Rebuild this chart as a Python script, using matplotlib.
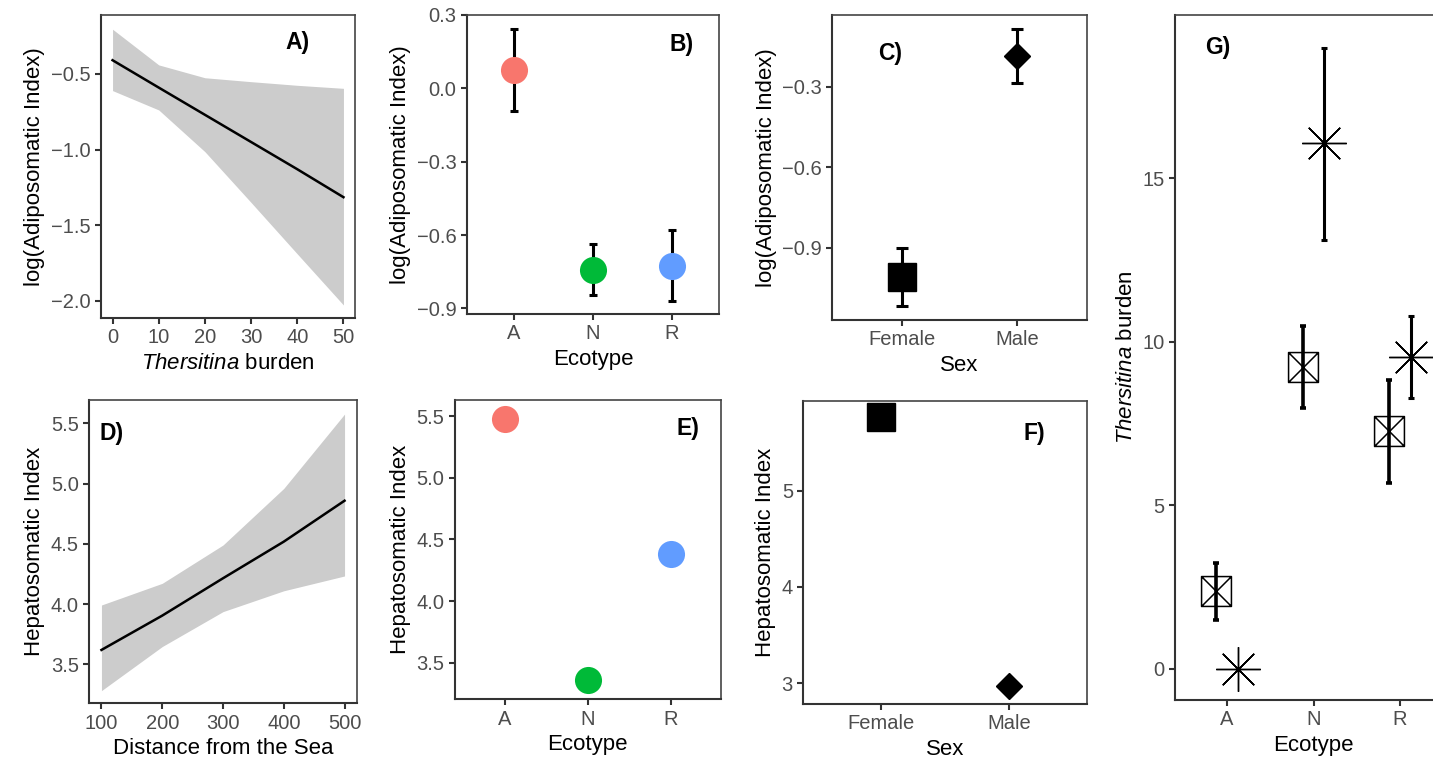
import numpy as np
import matplotlib
matplotlib.use('Agg')
from matplotlib import pyplot as plt
from matplotlib.path import Path

plt.rcParams['font.family'] = ['Liberation Sans', 'DejaVu Sans']
plt.rcParams['mathtext.fontset'] = 'custom'
plt.rcParams['mathtext.rm'] = 'Liberation Sans'
plt.rcParams['mathtext.it'] = 'Liberation Sans:italic'

# panel A: Thersitina burden vs log(AI)
burden = [0, 10, 20, 30, 40, 50]
ai_fit = [-0.409, -0.59, -0.77, -0.95, -1.13, -1.315]
ai_hi = [-0.204, -0.44, -0.525, -0.551, -0.575, -0.595]
ai_lo = [-0.61, -0.738, -1.014, -1.35, -1.69, -2.028]

# panel D: distance from the sea vs HSI
distance = [100, 200, 300, 400, 500]
hsi_fit = [3.619, 3.904, 4.214, 4.518, 4.858]
hsi_hi = [3.992, 4.172, 4.49, 4.96, 5.577]
hsi_lo = [3.281, 3.647, 3.937, 4.11, 4.233]

# panels B and E: ecotype
ecotypes = ['A', 'N', 'R']
eco_colors = ['#F8766D', '#00BA38', '#619CFF']
ai_eco = [0.075, -0.744, -0.727]
ai_eco_hi = [0.243, -0.638, -0.581]
ai_eco_lo = [-0.092, -0.847, -0.870]
hsi_eco = [5.473, 3.359, 4.378]

# panels C and F: sex
sexes = ['Female', 'Male']
sex_markers = ['s', 'D']
ai_sex = [-1.007, -0.186]
ai_sex_hi = [-0.9, -0.086]
ai_sex_lo = [-1.116, -0.287]
hsi_sex = [5.768, 2.972]

# panel G: burden per ecotype, two groups
burden_sq = [2.39, 9.22, 7.28]
burden_sq_hi = [3.25, 10.49, 8.85]
burden_sq_lo = [1.49, 7.99, 5.70]
burden_st = [0.0, 16.07, 9.55]
burden_st_hi = [0.0, 19.0, 10.79]
burden_st_lo = [0.0, 13.13, 8.28]

W, H = 1433, 765
fig = plt.figure(figsize=(W / 100, H / 100), dpi=100)


def add(l, r, t, b):
    ax = fig.add_axes([l / W, 1 - b / H, (r - l) / W, (b - t) / H])
    for s in ['left', 'bottom']:
        ax.spines[s].set_linewidth(1.5)
        ax.spines[s].set_color('#333333')
    for s in ['top', 'right']:
        ax.spines[s].set_linewidth(1.2)
        ax.spines[s].set_color('#444444')
    ax.tick_params(labelsize=14.5, labelcolor='#4D4D4D', color='#333333',
                   width=1.5, length=4.5, pad=3)
    return ax


def tag(ax, s, fx, fy):
    ax.text(fx, fy, s, transform=ax.transAxes, ha='center', va='center',
            fontsize=16.5, fontweight='bold')


lab = dict(fontsize=16)

# A
ax = add(101, 355, 15, 318)
ax.fill_between(burden, ai_lo, ai_hi, color='#CCCCCC', lw=0)
ax.plot(burden, ai_fit, color='black', lw=1.8)
ax.set_xlim(-2.5, 52.5)
ax.set_ylim(-2.114, -0.11)
ax.set_xticks([0, 10, 20, 30, 40, 50])
ax.set_yticks([-0.5, -1.0, -1.5, -2.0])
ax.set_xlabel(r'$\it{Thersitina}$ burden', **lab)
ax.set_ylabel('log(Adiposomatic Index)', **lab)
tag(ax, 'A)', 0.772, 0.908)

# B
ax = add(466.7, 719.3, 15, 314)
xs = np.arange(1, 4)
for i in range(3):
    ax.errorbar(xs[i], ai_eco[i],
                yerr=[[ai_eco[i] - ai_eco_lo[i]], [ai_eco_hi[i] - ai_eco[i]]],
                fmt='none', ecolor='black', elinewidth=2.2, capsize=3, capthick=2.2)
    ax.plot(xs[i], ai_eco[i], 'o', ms=19.5, color=eco_colors[i], mec='none', zorder=3)
ax.set_xlim(0.4, 3.6)
ax.set_ylim(-0.923, 0.3)
ax.set_xticks(xs, ecotypes)
ax.set_yticks([0.3, 0.0, -0.3, -0.6, -0.9])
ax.set_xlabel('Ecotype', **lab)
ax.set_ylabel('log(Adiposomatic Index)', **lab)
tag(ax, 'B)', 0.852, 0.903)

# C
ax = add(832.3, 1086.7, 15, 320)
xs2 = np.arange(1, 3)
for i in range(2):
    ax.errorbar(xs2[i], ai_sex[i],
                yerr=[[ai_sex[i] - ai_sex_lo[i]], [ai_sex_hi[i] - ai_sex[i]]],
                fmt='none', ecolor='black', elinewidth=2.2, capsize=4, capthick=2.2)
    ax.plot(xs2[i], ai_sex[i], sex_markers[i], ms=19.5 if i == 0 else 13.5,
            color='black', zorder=3)
ax.set_xlim(0.4, 2.6)
ax.set_ylim(-1.168, -0.033)
ax.set_xticks(xs2, sexes)
ax.set_yticks([-0.3, -0.6, -0.9])
ax.set_xlabel('Sex', **lab)
ax.set_ylabel('log(Adiposomatic Index)', **lab)
tag(ax, 'C)', 0.227, 0.875)

# D
ax = add(89.3, 356.7, 400, 703.3)
ax.fill_between(distance, hsi_lo, hsi_hi, color='#CCCCCC', lw=0)
ax.plot(distance, hsi_fit, color='black', lw=1.8)
ax.set_xlim(80, 520)
ax.set_ylim(3.176, 5.694)
ax.set_xticks([100, 200, 300, 400, 500])
ax.set_yticks([3.5, 4.0, 4.5, 5.0, 5.5])
ax.set_xlabel('Distance from the Sea', **lab)
ax.set_ylabel('Hepatosomatic Index', **lab)
tag(ax, 'D)', 0.085, 0.891)

# E
ax = add(455, 720.7, 400, 699.3)
for i in range(3):
    ax.plot(xs[i], hsi_eco[i], 'o', ms=19.5, color=eco_colors[i], mec='none')
ax.set_xlim(0.4, 3.6)
ax.set_ylim(3.203, 5.63)
ax.set_xticks(xs, ecotypes)
ax.set_yticks([3.5, 4.0, 4.5, 5.0, 5.5])
ax.set_xlabel('Ecotype', **lab)
ax.set_ylabel('Hepatosomatic Index', **lab)
tag(ax, 'E)', 0.877, 0.906)

# F
ax = add(803.3, 1086.7, 400.7, 704)
for i in range(2):
    ax.plot(xs2[i], hsi_sex[i], sex_markers[i], ms=19.5 if i == 0 else 13.5,
            color='black')
ax.set_xlim(0.4, 2.6)
ax.set_ylim(2.785, 5.934)
ax.set_xticks(xs2, sexes)
ax.set_yticks([3, 4, 5])
ax.set_xlabel('Sex', **lab)
ax.set_ylabel('Hepatosomatic Index', **lab)
tag(ax, 'F)', 0.815, 0.893)

# G
boxx = Path([(-1, -1), (1, -1), (1, 1), (-1, 1), (-1, -1), (1, 1), (-1, 1), (1, -1)],
            [Path.MOVETO, Path.LINETO, Path.LINETO, Path.LINETO, Path.LINETO,
             Path.LINETO, Path.MOVETO, Path.LINETO])
ax = add(1175, 1452, 15, 700)
dodge = 0.125
ax.errorbar(xs - dodge, burden_sq,
            yerr=[np.subtract(burden_sq, burden_sq_lo), np.subtract(burden_sq_hi, burden_sq)],
            fmt='none', ecolor='black', elinewidth=2.6, capsize=2, capthick=2.6)
ax.plot(xs - dodge, burden_sq, marker=boxx, ms=21.5, ls='none', mfc='none',
        mec='black', mew=1.1)
st_x = xs[1:] + dodge
ax.errorbar(st_x, burden_st[1:],
            yerr=[np.subtract(burden_st, burden_st_lo)[1:], np.subtract(burden_st_hi, burden_st)[1:]],
            fmt='none', ecolor='black', elinewidth=2.2, capsize=2, capthick=2.2)
ax.plot(xs + dodge, burden_st, marker=(8, 2, 0), ms=32, ls='none', color='black', mew=1.0)
ax.plot(xs + dodge, burden_st, 'o', ms=3, color='black')
ax.set_xlim(0.4, 3.6)
ax.set_ylim(-0.95, 20.0)
ax.set_xticks(xs, ecotypes)
ax.set_yticks([0, 5, 10, 15])
ax.set_xlabel('Ecotype', **lab)
ax.set_ylabel(r'$\it{Thersitina}$ burden', **lab)
tag(ax, 'G)', 0.155, 0.953)

fig.savefig('out.png', dpi=100)
